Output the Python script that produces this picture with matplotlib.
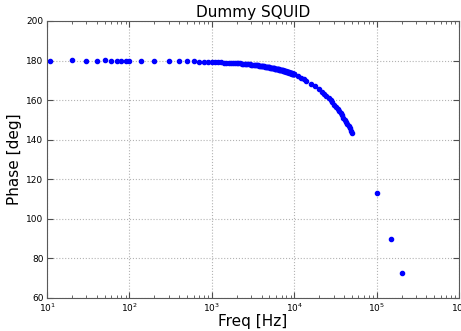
import matplotlib
matplotlib.use("Agg")
import matplotlib.pyplot as plt

# Frequencies [Hz] and measured phase [deg]
freq_low = [11, 20, 30, 40, 50, 60, 70, 80, 90, 100, 140,
            200, 300, 400, 500, 600, 700, 800, 900]
phase_low = [180.0, 180.1, 180.0, 180.0, 180.1, 180.0, 180.0, 180.0, 180.0, 180.0, 180.0,
             179.9, 179.8, 179.7, 179.7, 179.6, 179.5, 179.5, 179.4]

freq_mid = [1000, 1100, 1200, 1300, 1400, 1500, 1600, 1700, 1800, 1900,
            2000, 2100, 2200, 2300, 2400, 2500, 2600, 2700, 2800, 2900,
            3000, 3100, 3200, 3300, 3400, 3500, 3600, 3700, 3800, 3900,
            4000, 4100, 4200, 4300, 4400, 4500, 4600, 4700, 4800, 4900,
            5000, 5100, 5200, 5300, 5400, 5500, 5600, 5700, 5800, 5900,
            6000, 6100, 6200, 6300, 6400, 6500, 6600, 6700, 6800, 6900,
            7000, 7100, 7200, 7300, 7400, 7500, 7600, 7700, 7800, 7900,
            8000, 8100, 8200, 8300, 8400, 8500, 8600, 8700, 8800, 8900,
            9000, 9100, 9200, 9300, 9400, 9500, 9600, 9700, 9800, 9900,
            10000]
phase_mid = [179.3, 179.2, 179.2, 179.1, 179.0, 179.0, 178.9, 178.8, 178.7, 178.7,
             178.6, 178.5, 178.5, 178.4, 178.3, 178.3, 178.2, 178.1, 178.0, 178.0,
             177.9, 177.8, 177.8, 177.7, 177.6, 177.6, 177.5, 177.4, 177.3, 177.3,
             177.2, 177.1, 177.1, 177.0, 176.9, 176.9, 176.8, 176.7, 176.6, 176.6,
             176.5, 176.4, 176.4, 176.3, 176.2, 176.2, 176.1, 176.0, 175.9, 175.9,
             175.8, 175.7, 175.7, 175.6, 175.5, 175.5, 175.4, 175.3, 175.2, 175.2,
             175.1, 175.0, 175.0, 174.9, 174.8, 174.8, 174.7, 174.6, 174.5, 174.5,
             174.4, 174.3, 174.3, 174.2, 174.1, 174.1, 174.0, 173.9, 173.8, 173.8,
             173.7, 173.6, 173.6, 173.5, 173.4, 173.4, 173.3, 173.2, 173.1, 173.1,
             173.0]

freq_high = [11000, 12000, 13000, 14000, 16000, 18000, 20000, 21500, 23000, 24500,
             26000, 27500, 29000, 30500, 32000, 33500, 35000, 36500, 38000, 39500,
             41000, 42500, 44000, 45500, 47000, 48500, 50000,
             100000, 150000, 200000]
phase_high = [172.0, 171.2, 170.5, 169.8, 168.3, 166.9, 165.4, 164.3, 163.2, 162.1,
              161.0, 159.9, 158.8, 157.7, 156.6, 155.5, 154.4, 153.4, 152.3, 151.2,
              150.1, 149.0, 147.9, 146.8, 145.7, 144.6, 143.5,
              113.2, 90.0, 72.8]

freq = freq_low + freq_mid + freq_high
phase = phase_low + phase_mid + phase_high

fig = plt.figure(figsize=(4.61, 3.31), dpi=100)
ax = fig.add_axes([0.102, 0.0997, 0.894, 0.837])

ax.plot(freq, phase, 'o', color='blue', markeredgecolor='blue', markersize=3)
ax.set_xscale('log')
ax.set_xlim(10, 1e6)
ax.set_ylim(60, 200)
ax.set_yticks([60, 80, 100, 120, 140, 160, 180, 200])

ax.set_title('Dummy SQUID', fontsize=11, pad=3)
ax.set_xlabel('Freq [Hz]', fontsize=11, labelpad=0)
ax.set_ylabel('Phase [deg]', fontsize=11, labelpad=3)

ax.grid(True, which='major', color='0.7', linestyle=':', linewidth=0.8)
ax.tick_params(which='both', direction='in', top=True, right=True,
               labelsize=6.5, color='0.3')
ax.tick_params(which='major', length=4, pad=2.5)
ax.tick_params(which='minor', length=2)
for s in ax.spines.values():
    s.set_color('0.35')

fig.savefig('out.png', dpi=100)
